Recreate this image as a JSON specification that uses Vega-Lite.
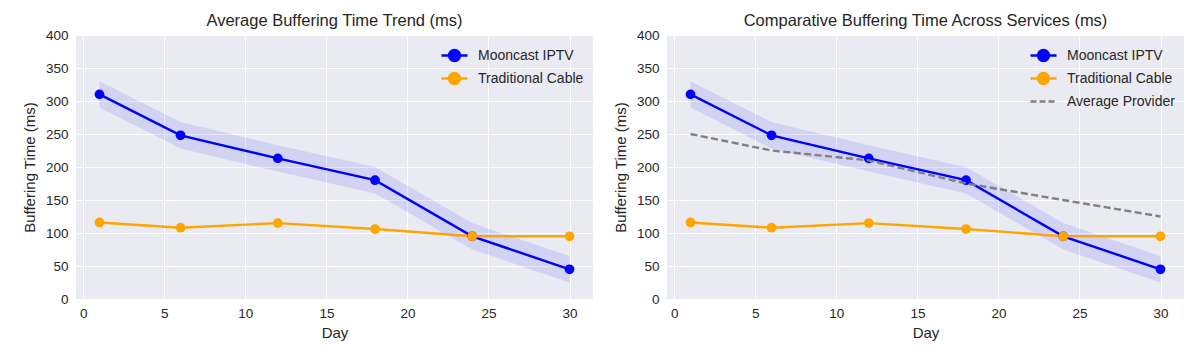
{
  "$schema": "https://vega.github.io/schema/vega-lite/v6.json",
  "padding": {"left": 22, "top": 12, "right": 5, "bottom": 5},
  "background": "white",
  "bounds": "flush",
  "spacing": 74,
  "datasets": {
    "buf": [
      {"day": 1, "series": "Mooncast IPTV", "value": 310, "lower": 290, "upper": 330},
      {"day": 6, "series": "Mooncast IPTV", "value": 248, "lower": 228, "upper": 268},
      {"day": 12, "series": "Mooncast IPTV", "value": 213, "lower": 193, "upper": 233},
      {"day": 18, "series": "Mooncast IPTV", "value": 180, "lower": 160, "upper": 200},
      {"day": 24, "series": "Mooncast IPTV", "value": 95, "lower": 75, "upper": 115},
      {"day": 30, "series": "Mooncast IPTV", "value": 45, "lower": 25, "upper": 65},
      {"day": 1, "series": "Traditional Cable", "value": 116},
      {"day": 6, "series": "Traditional Cable", "value": 108},
      {"day": 12, "series": "Traditional Cable", "value": 115},
      {"day": 18, "series": "Traditional Cable", "value": 106},
      {"day": 24, "series": "Traditional Cable", "value": 95},
      {"day": 30, "series": "Traditional Cable", "value": 95},
      {"day": 1, "series": "Average Provider", "value": 250},
      {"day": 6, "series": "Average Provider", "value": 225},
      {"day": 12, "series": "Average Provider", "value": 210},
      {"day": 18, "series": "Average Provider", "value": 175},
      {"day": 24, "series": "Average Provider", "value": 150},
      {"day": 30, "series": "Average Provider", "value": 125}
    ]
  },
  "hconcat": [
    {
      "width": 517,
      "height": 264,
      "title": "Average Buffering Time Trend (ms)",
      "data": {"name": "buf"},
      "transform": [{"filter": "datum.series !== 'Average Provider'"}],
      "encoding": {
        "x": {"field": "day", "type": "quantitative", "title": "Day",
              "scale": {"domain": [-0.45, 31.45], "nice": false, "zero": false},
              "axis": {"values": [0, 5, 10, 15, 20, 25, 30]}},
        "y": {"field": "value", "type": "quantitative", "title": "Buffering Time (ms)",
              "scale": {"domain": [0, 400], "nice": false},
              "axis": {"values": [0, 50, 100, 150, 200, 250, 300, 350, 400]}}
      },
      "layer": [
        {
          "transform": [{"filter": "datum.series === 'Mooncast IPTV'"}],
          "mark": {"type": "area", "color": "blue", "opacity": 0.1},
          "encoding": {"y": {"field": "lower", "type": "quantitative"}, "y2": {"field": "upper"}}
        },
        {
          "mark": {"type": "line", "strokeWidth": 2.4},
          "encoding": {
            "color": {"field": "series", "type": "nominal",
                      "scale": {"domain": ["Mooncast IPTV", "Traditional Cable"], "range": ["blue", "orange"]},
                      "legend": {
                        "title": null, "orient": "top-right", "offset": 9, "padding": 0,
                        "symbolSize": 400, "labelOffset": 12, "rowPadding": 1,
                        "labelFontSize": 14, "labelColor": "#262626", "labelFont": "Liberation Sans",
                        "symbolStrokeWidth": 2.4,
                        "encode": {"symbols": {"update": {
                          "shape": {"signal": "datum.value==='Average Provider' ? 'M-1.3,0L-0.7,0M-0.4,0L0.2,0M0.5,0L1.1,0' : 'M-1.3,0L1.3,0M-0.55,0A0.55,0.55,0,1,1,0.55,0A0.55,0.55,0,1,1,-0.55,0Z'"},
                          "fill": {"signal": "datum.value==='Mooncast IPTV' ? 'blue' : datum.value==='Traditional Cable' ? 'orange' : 'transparent'"},
                          "stroke": {"signal": "datum.value==='Mooncast IPTV' ? 'blue' : datum.value==='Traditional Cable' ? 'orange' : 'gray'"},
                          "opacity": {"value": 1}
                        }}}
                      }}
          }
        },
        {
          "mark": {"type": "point", "filled": true, "size": 95, "opacity": 1},
          "encoding": {"color": {"field": "series", "type": "nominal"}}
        }
      ]
    },
    {
      "width": 517,
      "height": 264,
      "title": "Comparative Buffering Time Across Services (ms)",
      "data": {"name": "buf"},
      "encoding": {
        "x": {"field": "day", "type": "quantitative", "title": "Day",
              "scale": {"domain": [-0.45, 31.45], "nice": false, "zero": false},
              "axis": {"values": [0, 5, 10, 15, 20, 25, 30]}},
        "y": {"field": "value", "type": "quantitative", "title": "Buffering Time (ms)",
              "scale": {"domain": [0, 400], "nice": false},
              "axis": {"values": [0, 50, 100, 150, 200, 250, 300, 350, 400]}}
      },
      "layer": [
        {
          "transform": [{"filter": "datum.series === 'Mooncast IPTV'"}],
          "mark": {"type": "area", "color": "blue", "opacity": 0.1},
          "encoding": {"y": {"field": "lower", "type": "quantitative"}, "y2": {"field": "upper"}}
        },
        {
          "transform": [{"filter": "datum.series !== 'Average Provider'"}],
          "mark": {"type": "line", "strokeWidth": 2.4},
          "encoding": {
            "color": {"field": "series", "type": "nominal",
                      "scale": {"domain": ["Mooncast IPTV", "Traditional Cable", "Average Provider"], "range": ["blue", "orange", "gray"]},
                      "legend": {
                        "title": null, "orient": "top-right", "offset": 9, "padding": 0,
                        "symbolSize": 400, "labelOffset": 12, "rowPadding": 1,
                        "labelFontSize": 14, "labelColor": "#262626", "labelFont": "Liberation Sans",
                        "symbolStrokeWidth": 2.4,
                        "encode": {"symbols": {"update": {
                          "shape": {"signal": "datum.value==='Average Provider' ? 'M-1.3,0L-0.7,0M-0.4,0L0.2,0M0.5,0L1.1,0' : 'M-1.3,0L1.3,0M-0.55,0A0.55,0.55,0,1,1,0.55,0A0.55,0.55,0,1,1,-0.55,0Z'"},
                          "fill": {"signal": "datum.value==='Mooncast IPTV' ? 'blue' : datum.value==='Traditional Cable' ? 'orange' : 'transparent'"},
                          "stroke": {"signal": "datum.value==='Mooncast IPTV' ? 'blue' : datum.value==='Traditional Cable' ? 'orange' : 'gray'"},
                          "opacity": {"value": 1}
                        }}}
                      }}
          }
        },
        {
          "transform": [{"filter": "datum.series !== 'Average Provider'"}],
          "mark": {"type": "point", "filled": true, "size": 95, "opacity": 1},
          "encoding": {"color": {"field": "series", "type": "nominal"}}
        },
        {
          "transform": [{"filter": "datum.series === 'Average Provider'"}],
          "mark": {"type": "line", "strokeWidth": 2.4, "strokeDash": [7, 3.5]},
          "encoding": {"color": {"field": "series", "type": "nominal"}}
        }
      ]
    }
  ],
  "resolve": {"scale": {"color": "independent", "x": "independent", "y": "independent"}, "legend": {"color": "independent"}},
  "config": {
    "font": "Liberation Sans",
    "view": {"fill": "#EAEAF2", "stroke": null},
    "title": {"fontSize": 16.5, "fontWeight": "normal", "color": "#262626", "offset": -1.2, "font": "Liberation Sans"},
    "axis": {
      "domain": false, "ticks": false, "grid": true, "gridColor": "white", "gridWidth": 1, "gridOpacity": 1,
      "labelColor": "#262626", "labelFontSize": 13.5, "labelFont": "Liberation Sans",
      "titleColor": "#262626", "titleFontSize": 15, "titleFontWeight": "normal", "titleFont": "Liberation Sans"
    },
    "axisX": {"labelPadding": 7, "titlePadding": 6},
    "axisY": {"labelPadding": 8, "titlePadding": 8}
  }
}
